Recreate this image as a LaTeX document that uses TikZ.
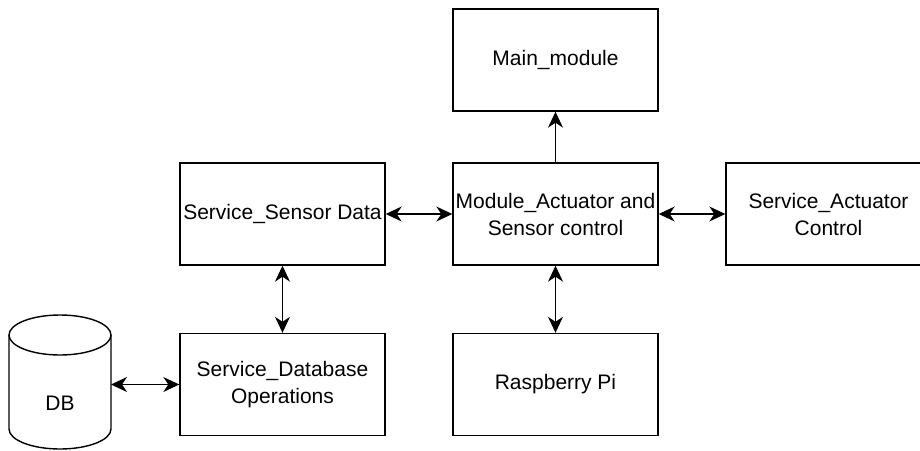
\documentclass[tikz,border=0pt]{standalone}
\usepackage{fontspec}
\setmainfont{Liberation Sans}
\usetikzlibrary{arrows.meta}
\begin{document}
\begin{tikzpicture}[x=1pt,y=-1pt,
  line/.style={line width=1.4pt,draw=black},
  box/.style={line, rectangle, minimum width=205pt, minimum height=102pt, inner sep=0pt,
    align=center, font=\fontsize{21}{27}\selectfont},
  tip/.style={},
  arr/.style={line, {Stealth[length=16pt,width=15pt,inset=5pt]}-{Stealth[length=16pt,width=15pt,inset=5pt]}},
  arrone/.style={line, -{Stealth[length=16pt,width=15pt,inset=5pt]}}]
\useasboundingbox (0,0) rectangle (920,450);
\node[box] (main) at (555.5,60) {Main\_module};
\node[box] (module) at (555.5,214) {Module\_Actuator and\\Sensor control};
\node[box] (sensor) at (282.5,214) {Service\_Sensor Data};
\node[box] (actuator) at (828.5,214) {Service\_Actuator\\Control};
\node[box] (database) at (282.5,384.5) {Service\_Database\\Operations};
\node[box] (rpi) at (555.5,384.5) {Raspberry Pi};
% cylinder
\draw[line] (60,335) ellipse [x radius=51, y radius=20];
\draw[line] (9,335) -- (9,429) arc[start angle=180, end angle=0, x radius=51, y radius=20] -- (111,335);
\node[font=\fontsize{21}{27}\selectfont, inner sep=0pt] (db) at (60,403) {DB};
\coordinate (dbR) at (111,384.5);
% connectors
\draw[arrone] (module) -- (main);
\draw[arr] (sensor) -- (module);
\draw[arr] (module) -- (actuator);
\draw[arr] (sensor) -- (database);
\draw[arr] (module) -- (rpi);
\draw[arr] (dbR) -- (database);
\end{tikzpicture}
\end{document}
